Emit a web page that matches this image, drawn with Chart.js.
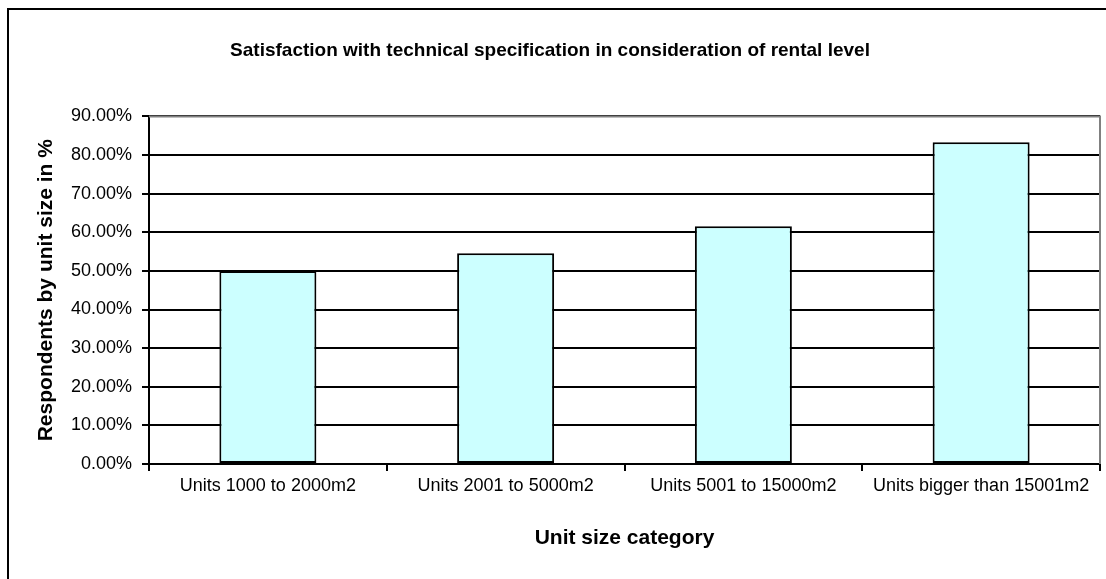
<!DOCTYPE html>
<html>
<head>
<meta charset="utf-8">
<script src="https://cdn.jsdelivr.net/npm/chart.js@4.4.1/dist/chart.umd.min.js"></script>
<style>
  html, body { margin: 0; padding: 0; background: #fff; }
  #wrap { width: 1106px; height: 579px; }
</style>
</head>
<body>
<div id="wrap"><canvas id="chart" width="1106" height="579"></canvas></div>
<script>
const categories = ["Units 1000 to 2000m2", "Units 2001 to 5000m2", "Units 5001 to 15000m2", "Units bigger than 15001m2"];
const satisfaction = [50.0, 54.55, 61.54, 83.33];
const yTicks = [0, 10, 20, 30, 40, 50, 60, 70, 80, 90];

const FONT = "'Liberation Sans', Arial, sans-serif";

// white page, outer frame, plot area border (top + right only, like Excel)
const frame = {
    id: "frame",
    beforeDraw(chart) {
        const c = chart.ctx;
        c.save();
        c.fillStyle = "#fff";
        c.fillRect(0, 0, chart.width, chart.height);
        c.strokeStyle = "#000";
        c.lineWidth = 2;
        c.strokeRect(8, 9, chart.width + 20, chart.height + 20);
        c.restore();
    },
    afterDraw(chart) {
        const a = chart.chartArea;
        const c = chart.ctx;
        c.save();
        c.strokeStyle = "#808080";
        c.lineWidth = 2;
        c.beginPath();
        c.moveTo(a.left, a.top);
        c.lineTo(a.right, a.top);
        c.lineTo(a.right, a.bottom);
        c.stroke();
        c.restore();
    }
};

const ctx = document.getElementById("chart").getContext("2d");

const chart = new Chart(ctx, {
    type: "bar",
    data: {
        labels: categories,
        datasets: [{
            label: "Satisfaction",
            data: satisfaction,
            backgroundColor: "#CCFFFF",
            borderColor: "#000",
            borderWidth: 2,
            borderSkipped: false,
            categoryPercentage: 0.408,
            barPercentage: 1.0
        }]
    },
    options: {
        responsive: false,
        animation: false,
        layout: { padding: { left: 0, right: 6, top: 0, bottom: 0 } },
        plugins: {
            legend: { display: false },
            tooltip: { enabled: false },
            title: {
                display: true,
                text: "Satisfaction with technical specification in consideration of rental level",
                color: "#000",
                font: { family: FONT, size: 19, weight: "bold", lineHeight: 1.2 },
                padding: { top: 39, bottom: 54.6 }
            }
        },
        scales: {
            x: {
                afterFit: s => { s.height = 115; },
                grid: { display: true, drawOnChartArea: false, drawTicks: true, tickLength: 7, color: "#000", lineWidth: 2, offset: true },
                border: { display: true, color: "#000", width: 2 },
                ticks: { color: "#000", padding: 4, font: { family: FONT, size: 18 }, maxRotation: 0, autoSkip: false },
                title: {
                    display: true,
                    text: "Unit size category",
                    color: "#000",
                    font: { family: FONT, size: 21, weight: "bold", lineHeight: 1.2 },
                    padding: { top: 0, bottom: 28.4 }
                }
            },
            y: {
                min: 0,
                max: 90,
                afterFit: s => { s.width = 149; },
                afterBuildTicks: s => { s.ticks = yTicks.map(v => ({ value: v })); },
                grid: { color: "#000", lineWidth: 2, drawTicks: true, tickLength: 7 },
                border: { display: true, color: "#000", width: 2 },
                ticks: {
                    color: "#000",
                    padding: 10,
                    font: { family: FONT, size: 18 },
                    callback: v => v.toFixed(2) + "%"
                },
                title: {
                    display: true,
                    text: "Respondents by unit size in %",
                    color: "#000",
                    font: { family: FONT, size: 21, weight: "bold", lineHeight: 1.2 },
                    padding: { top: 33.4, bottom: 0 }
                }
            }
        }
    },
    plugins: [frame]
});
</script>
</body>
</html>
